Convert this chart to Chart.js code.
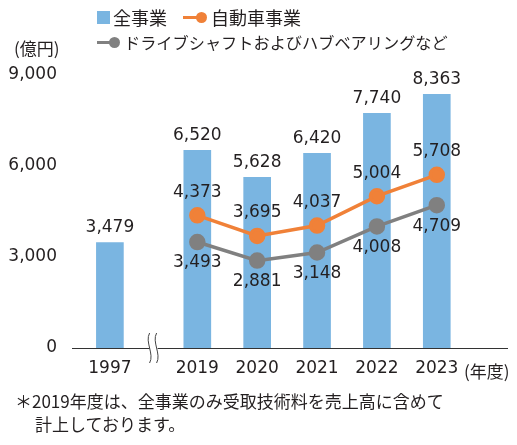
<!DOCTYPE html>
<html lang="ja">
<head>
<meta charset="utf-8">
<script src="https://cdn.jsdelivr.net/npm/chart.js@4"></script>
<style>
  html, body { margin: 0; padding: 0; background: #fff; }
  body { width: 517px; height: 445px; position: relative; overflow: hidden;
         font-family: "Noto Sans CJK JP", "Noto Sans", sans-serif; color: #231f20; }
  #wrap { position: absolute; left: 0; top: 0; width: 517px; height: 445px; }
  .txt { position: absolute; white-space: nowrap; line-height: 1; font-size: 17px; }
  .sq { position: absolute; width: 13px; height: 13px; background: #7ab5e1; }
  .ln { position: absolute; height: 3px; }
  .dot { position: absolute; width: 11px; height: 11px; border-radius: 50%; }
</style>
</head>
<body>
<div id="wrap"><canvas id="chart" width="517" height="445"></canvas></div>

<div class="sq" style="left:97px;top:11px"></div>
<div class="txt" style="left:113px;top:8px;font-size:18px">全事業</div>
<div class="ln" style="left:183px;top:16px;width:20px;background:#f08138"></div>
<div class="dot" style="left:196px;top:12px;background:#f08138"></div>
<div class="txt" style="left:211px;top:8px;font-size:18px">自動車事業</div>
<div class="ln" style="left:97px;top:41px;width:18px;background:#808080"></div>
<div class="dot" style="left:109px;top:37px;background:#808080"></div>
<div class="txt" style="left:124px;top:34px;font-size:16.2px">ドライブシャフトおよびハブベアリングなど</div>

<div class="txt" style="left:14px;top:39px">(億円)</div>
<div class="txt" style="left:464px;top:362px">(年度)</div>
<div class="txt" style="left:15px;top:392px">＊2019年度は、全事業のみ受取技術料を売上高に含めて</div>
<div class="txt" style="left:35px;top:415px">計上しております。</div>

<script>
const years = ['1997', '2019', '2020', '2021', '2022', '2023'];
const allBusiness = [3479, 6520, 5628, 6420, 7740, 8363];
const automotive = [null, 4373, 3695, 4037, 5004, 5708];
const driveshaft = [null, 3493, 2881, 3148, 4008, 4709];
const yTicks = [0, 3000, 6000, 9000];

// gap after 1997 for the axis break
const breakGap = 0.46;
const xPos = years.map((y, i) => (i === 0 ? 0 : i + breakGap));

const textColor = '#231f20';
const numFont = { family: '"DejaVu Sans", "Noto Sans", sans-serif', size: 17 };

const toPoints = arr => arr.map((v, i) => ({ x: xPos[i], y: v })).filter(p => p.y !== null);

const valueLabels = {
  id: 'valueLabels',
  afterDatasetsDraw(chart) {
    const ctx = chart.ctx;
    ctx.save();
    ctx.font = numFont.size + 'px ' + numFont.family;
    ctx.fillStyle = textColor;
    ctx.textAlign = 'center';
    ctx.textBaseline = 'middle';
    chart.data.datasets.forEach((ds, di) => {
      const meta = chart.getDatasetMeta(di);
      meta.data.forEach((el, i) => {
        const v = ds.data[i].y;
        let y = el.y;
        if (ds.labelPos === 'bar') y -= 15;
        else if (ds.labelPos === 'above') y -= 23;
        else y += 21;
        ctx.fillText(v.toLocaleString('en-US'), el.x, y);
      });
    });
    ctx.restore();
  }
};

const axisBreak = {
  id: 'axisBreak',
  afterDraw(chart) {
    const ctx = chart.ctx;
    const x = chart.scales.x.getPixelForValue(breakGap / 2 + 0.5);
    const y = chart.chartArea.bottom;
    ctx.save();
    ctx.fillStyle = '#fff';
    ctx.fillRect(x - 4, y - 3, 8, 6);
    ctx.strokeStyle = '#444';
    ctx.lineWidth = 1;
    [-4, 3].forEach(dx => {
      ctx.beginPath();
      ctx.moveTo(x + dx, y - 15);
      ctx.bezierCurveTo(x + dx - 5, y - 6, x + dx + 5, y + 6, x + dx, y + 15);
      ctx.stroke();
    });
    ctx.restore();
  }
};

new Chart(document.getElementById('chart').getContext('2d'), {
  data: {
    datasets: [
      {
        type: 'line',
        label: 'ドライブシャフトおよびハブベアリングなど',
        data: toPoints(driveshaft),
        borderColor: '#808080',
        backgroundColor: '#808080',
        borderWidth: 3.5,
        pointRadius: 6.5,
        pointHoverRadius: 6.5,
        labelPos: 'below',
        order: 1
      },
      {
        type: 'line',
        label: '自動車事業',
        data: toPoints(automotive),
        borderColor: '#f08138',
        backgroundColor: '#f08138',
        borderWidth: 3.5,
        pointRadius: 6.5,
        pointHoverRadius: 6.5,
        labelPos: 'above',
        order: 0
      },
      {
        type: 'bar',
        label: '全事業',
        data: toPoints(allBusiness),
        backgroundColor: '#7ab5e1',
        barThickness: 27,
        labelPos: 'bar',
        order: 2
      }
    ]
  },
  options: {
    responsive: false,
    animation: false,
    layout: { padding: { top: 75, right: 9, bottom: 57, left: 0 } },
    plugins: { legend: { display: false }, tooltip: { enabled: false } },
    scales: {
      x: {
        type: 'linear',
        min: -0.633,
        max: 6.633,
        offset: false,
        grid: { display: false, drawTicks: false, offset: false },
        border: { display: true, color: '#333', width: 1 },
        afterBuildTicks: scale => { scale.ticks = xPos.map(v => ({ value: v })); },
        afterFit: scale => { scale.height = 40; },
        ticks: {
          padding: 10,
          color: textColor,
          font: numFont,
          autoSkip: false,
          maxRotation: 0,
          callback: (v, i) => years[i]
        }
      },
      y: {
        min: 0,
        max: 9000,
        grid: { display: false, drawTicks: false },
        border: { display: false },
        afterBuildTicks: scale => { scale.ticks = yTicks.map(v => ({ value: v })); },
        afterFit: scale => { scale.width = 72; },
        ticks: {
          padding: 15,
          color: textColor,
          font: numFont,
          callback: v => v.toLocaleString('en-US')
        }
      }
    }
  },
  plugins: [valueLabels, axisBreak]
});
</script>
</body>
</html>
